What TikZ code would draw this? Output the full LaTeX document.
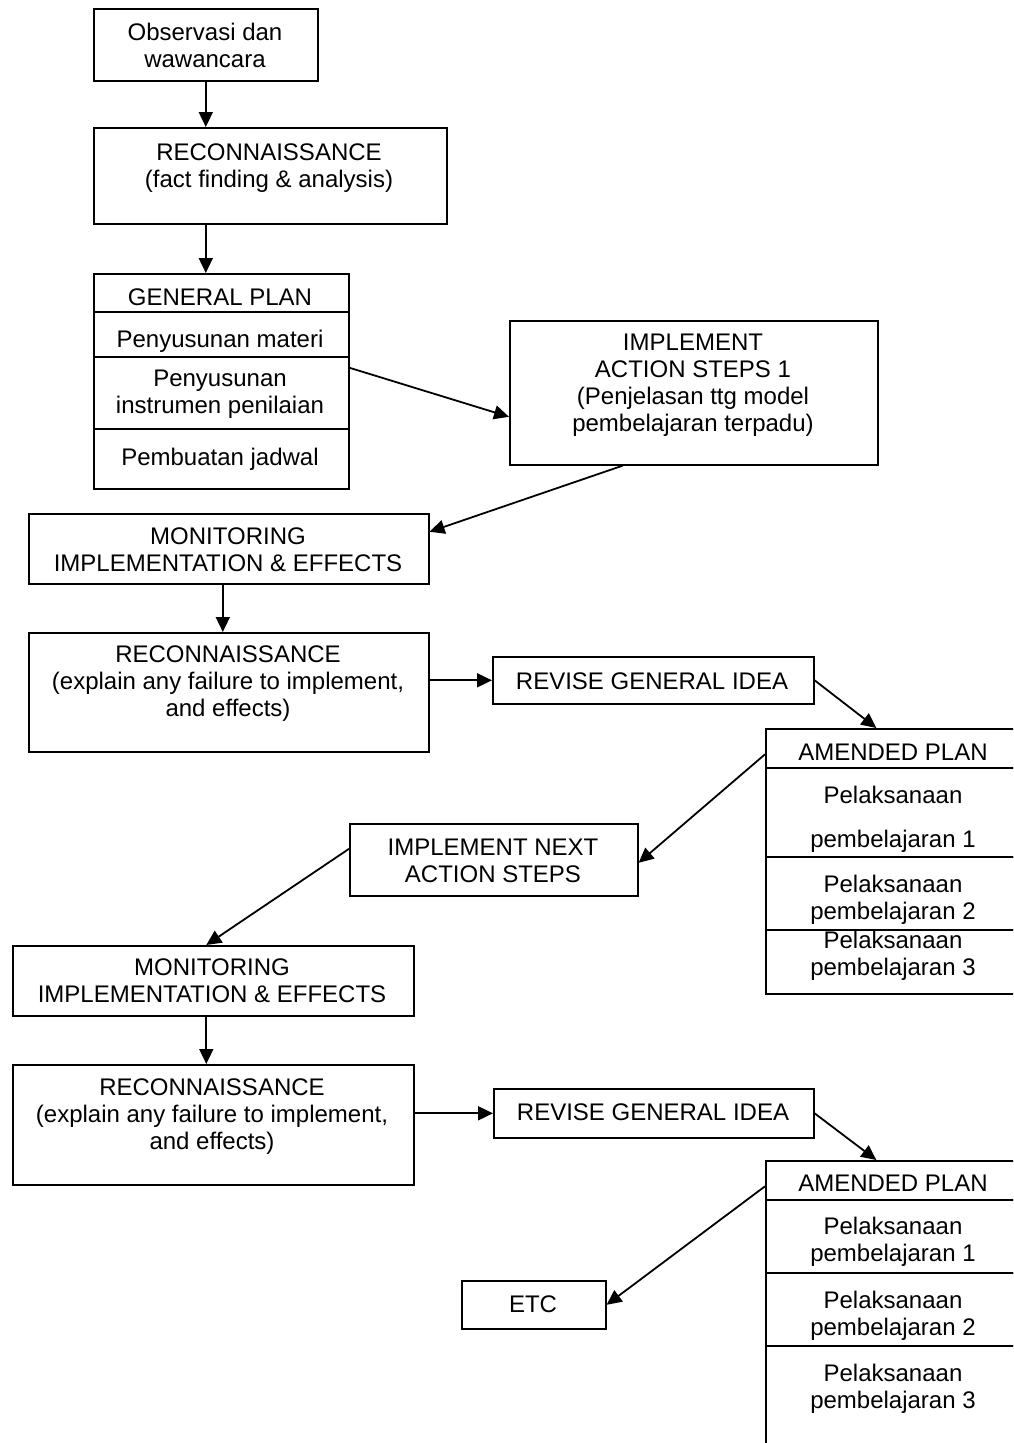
\documentclass[tikz,border=0pt]{standalone}
\usepackage{fontspec}
\setmainfont{Liberation Sans}
\usetikzlibrary{arrows.meta,calc}
\begin{document}
\begin{tikzpicture}[x=1pt,y=-1pt,
  box/.style={draw, line width=1.6pt, rectangle, inner sep=0pt, anchor=north west},
  txt/.style={align=center, inner sep=0pt, font=\fontsize{24}{27}\selectfont},
  conn/.style={line width=1.8pt, -{Triangle[length=15pt,width=14pt]}}]
\useasboundingbox (0,0) rectangle (1013,1443);
\clip (0,0) rectangle (1013,1443);
% boxes
\node[box, minimum width=224pt, minimum height=72pt] (obs) at (93,8) {};
\node[box, minimum width=353pt, minimum height=96pt] (rec1) at (93,127) {};
\node[box, minimum width=255pt, minimum height=38pt] (gp0) at (93,273) {};
\node[box, minimum width=255pt, minimum height=45pt] (gp1) at (93,311) {};
\node[box, minimum width=255pt, minimum height=72pt] (gp2) at (93,356) {};
\node[box, minimum width=255pt, minimum height=60pt] (gp3) at (93,428) {};
\node[box, minimum width=368pt, minimum height=144pt] (imp1) at (509,320) {};
\node[box, minimum width=400pt, minimum height=70pt] (mon1) at (28,513) {};
\node[box, minimum width=400pt, minimum height=119pt] (rec2) at (28,632) {};
\node[box, minimum width=321pt, minimum height=47pt] (rev1) at (492,656) {};
\node[box, minimum width=257pt, minimum height=39pt] (am1h) at (765,728) {};
\node[box, minimum width=257pt, minimum height=89pt] (am1a) at (765,767) {};
\node[box, minimum width=257pt, minimum height=73pt] (am1b) at (765,856) {};
\node[box, minimum width=257pt, minimum height=64pt] (am1c) at (765,929) {};
\node[box, minimum width=288pt, minimum height=72pt] (impn) at (349,823) {};
\node[box, minimum width=401pt, minimum height=70pt] (mon2) at (12,945) {};
\node[box, minimum width=401pt, minimum height=120pt] (rec3) at (12,1064) {};
\node[box, minimum width=320pt, minimum height=49pt] (rev2) at (493,1088) {};
\node[box, minimum width=257pt, minimum height=39pt] (am2h) at (765,1160) {};
\node[box, minimum width=257pt, minimum height=73pt] (am2a) at (765,1199) {};
\node[box, minimum width=257pt, minimum height=73pt] (am2b) at (765,1272) {};
\node[box, minimum width=257pt, minimum height=130pt] (am2c) at (765,1345) {};
\node[box, minimum width=144pt, minimum height=48pt] (etc) at (461,1280) {};
% texts
\node[txt] (tobs) at (205,45) {Observasi dan\\wawancara};
\node[txt] (trec1) at (269,168) {RECONNAISSANCE\\(fact finding \& analysis)};
\node[txt] (tgp0) at (220,297) {GENERAL PLAN};
\node[txt] (tgp1) at (220,341) {Penyusunan materi};
\node[txt] (tgp2) at (220,394) {Penyusunan\\instrumen penilaian};
\node[txt] (tgp3) at (220,459) {Pembuatan jadwal};
\node[txt] (timp1) at (693,385) {IMPLEMENT\\ACTION STEPS 1\\(Penjelasan ttg model\\pembelajaran terpadu)};
\node[txt] (tmon1) at (228,550) {MONITORING\\IMPLEMENTATION \& EFFECTS};
\node[txt] (trec2) at (228,684) {RECONNAISSANCE\\(explain any failure to implement,\\and effects)};
\node[txt] (trev1) at (652,681) {REVISE GENERAL IDEA};
\node[txt] (tam1h) at (893,752) {AMENDED PLAN};
\node[txt] (tam1a) at (893,819) {Pelaksanaan\\[17pt]pembelajaran 1};
\node[txt] (tam1b) at (893,900) {Pelaksanaan\\pembelajaran 2};
\node[txt] (tam1c) at (893,956) {Pelaksanaan\\pembelajaran 3};
\node[txt] (timpn) at (493,861) {IMPLEMENT NEXT\\ACTION STEPS};
\node[txt] (tmon2) at (212,981) {MONITORING\\IMPLEMENTATION \& EFFECTS};
\node[txt] (trec3) at (212,1117) {RECONNAISSANCE\\(explain any failure to implement,\\and effects)};
\node[txt] (trev2) at (653,1112) {REVISE GENERAL IDEA};
\node[txt] (tam2h) at (893,1183) {AMENDED PLAN};
\node[txt] (tam2a) at (893,1242) {Pelaksanaan\\pembelajaran 1};
\node[txt] (tam2b) at (893,1316) {Pelaksanaan\\pembelajaran 2};
\node[txt] (tam2c) at (893,1389) {Pelaksanaan\\pembelajaran 3};
\node[txt] (tetc) at (533,1304) {ETC};
% connectors
\draw[conn] (obs.south) -- (obs.south |- rec1.north);
\draw[conn] (obs.south |- rec1.south) -- (obs.south |- gp0.north);
\draw[conn] ([yshift=25pt]gp2.east) -- ([yshift=-24pt]imp1.west);
\draw[conn] ([xshift=-71pt]imp1.south) -- ([yshift=17pt]mon1.east);
\draw[conn] ([xshift=-6pt]mon1.south) -- ([xshift=-6pt]rec2.north);
\draw[conn] (rev1.west -| rec2.east) -- (rev1.west);
\draw[conn] (rev1.east) -- ([xshift=-18pt]am1h.north);
\draw[conn] ([yshift=-6pt]am1h.west) -- ([yshift=-3pt]impn.east);
\draw[conn] ([yshift=11pt]impn.west) -- ([xshift=-7pt]mon2.north);
\draw[conn] ([xshift=-7pt]mon2.south) -- ([xshift=-7pt]rec3.north);
\draw[conn] (rev2.west -| rec3.east) -- (rev2.west);
\draw[conn] (rev2.east) -- ([xshift=-18pt]am2h.north);
\draw[conn] ([yshift=-6pt]am2h.west) -- (etc.east);
\end{tikzpicture}
\end{document}
